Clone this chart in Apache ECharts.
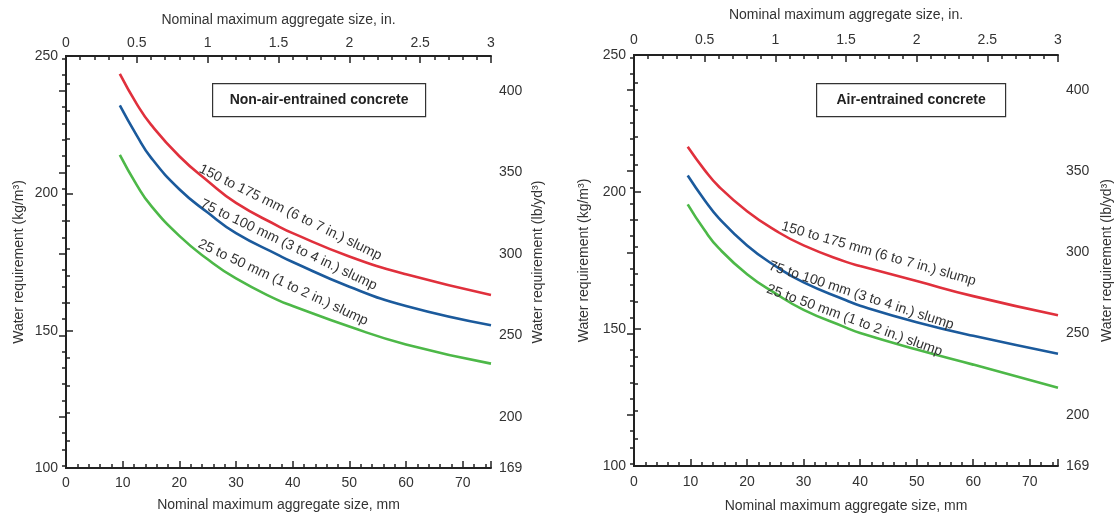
<!DOCTYPE html>
<html>
<head>
<meta charset="utf-8">
<script src="https://cdn.jsdelivr.net/npm/echarts@6/dist/echarts.min.js"></script>
<style>
html,body{margin:0;padding:0;background:#fff;}
#c{width:1117px;height:515px;}
</style>
</head>
<body>
<div id="c"></div>
<script>
// ---- data ----
var sizesMm = [9.5, 12.5, 15, 20, 25, 30, 37.5, 40, 50, 60, 75];
// Non-air-entrained concrete (kg/m3)
var nonAirHigh = [243.5, 232.5, 225, 213.5, 204.5, 196.5, 188, 185.5, 177, 170.5, 163];
var nonAirMid  = [232, 221, 213, 201.5, 193, 185.5, 177.5, 175, 166, 159, 152];
var nonAirLow  = [214, 203, 195.5, 184.5, 176, 169, 161, 159, 151.5, 145, 138];
// Air-entrained concrete (kg/m3)
var airHigh = [216.5, 208, 202, 193, 186, 180.5, 174.5, 173, 167.5, 162, 155];
var airMid  = [206, 197, 190.5, 180.5, 173, 167, 160.5, 158.5, 152.5, 147.5, 141];
var airLow  = [195.5, 186, 179.5, 170, 163, 157, 150.5, 148.5, 142.5, 137, 128.6];
var seriesNames = ['150 to 175 mm (6 to 7 in.) slump', '75 to 100 mm (3 to 4 in.) slump', '25 to 50 mm (1 to 2 in.) slump'];
var panelTitles = ['Non-air-entrained concrete', 'Air-entrained concrete'];
var kgTickLabels = [100, 150, 200, 250];
var lbTickLabels = [200, 250, 300, 350, 400];
var inTickLabels = [0, 0.5, 1, 1.5, 2, 2.5, 3];
var mmTickLabels = [0, 10, 20, 30, 40, 50, 60, 70];
// slump label anchors [mm, kg/m3] and rotation per panel
var labelAnchorsNonAir = [[39.6, 193], [39.3, 181.2], [38.3, 167.5]];
var labelAnchorsAir = [[43.3, 177.4], [40.2, 162.2], [39, 153.1]];
var labelRotNonAir = [-26, -25.5, -25];
var labelRotAir = [-16, -18, -20];

var KG_TO_LB = 1.6856;
var colors = ['#e0303c', '#1b5a9c', '#4db848'];
var font = 'Liberation Sans, Arial, Helvetica, sans-serif';
var axisColor = '#222';
var textColor = '#333';

var grids = [
  {left: 66, top: 56, width: 425, height: 412, outerBoundsMode: 'none', containLabel: false},
  {left: 634, top: 55, width: 424, height: 411, outerBoundsMode: 'none', containLabel: false}
];
var layout = [
  {topMargin: 6, topGap: 29, botMargin: 8, botGap: 30, leftGap: 40, rightGap: 40},
  {topMargin: 8, topGap: 33, botMargin: 9, botGap: 33, leftGap: 43, rightGap: 42}
];

function pairs(ys) { return sizesMm.map(function (x, i) { return [x, ys[i]]; }); }

var xAxes = [], yAxes = [], series = [];
var panels = [[nonAirHigh, nonAirMid, nonAirLow], [airHigh, airMid, airLow]];
var anchors = [labelAnchorsNonAir, labelAnchorsAir];
var rots = [labelRotNonAir, labelRotAir];
var lbMin = 100 * KG_TO_LB, lbMax = 250 * KG_TO_LB;
var lbMinor = [];
for (var v = 170; v <= 420; v += 10) lbMinor.push(v);

var tickStyle = {color: axisColor, width: 1.5};
function minorAxis(gi, pos, min, max, interval) {
  return {
    gridIndex: gi, type: 'value', position: pos, min: min, max: max, interval: interval,
    axisLine: {show: false}, axisLabel: {show: false}, splitLine: {show: false},
    axisTick: {show: true, inside: true, length: 4, lineStyle: tickStyle}
  };
}

grids.forEach(function (g, gi) {
  var L = layout[gi];
  var base = xAxes.length;
  xAxes.push({
    gridIndex: gi, type: 'value', position: 'bottom', min: 0, max: 75, interval: 10,
    name: 'Nominal maximum aggregate size, mm', nameLocation: 'middle', nameGap: L.botGap,
    nameTextStyle: {fontFamily: font, fontSize: 14, color: textColor},
    axisLine: {show: true, lineStyle: {color: axisColor, width: 2}},
    axisTick: {show: true, inside: true, length: 7, lineStyle: tickStyle},
    axisLabel: {show: true, margin: L.botMargin, fontFamily: font, fontSize: 14, color: textColor,
      formatter: function (val) { return mmTickLabels.indexOf(val) >= 0 ? String(val) : ''; }},
    splitLine: {show: false}
  });
  xAxes.push(minorAxis(gi, 'bottom', 0, 75, 2));
  xAxes.push({
    gridIndex: gi, type: 'value', position: 'top', min: 0, max: 3, interval: 0.5,
    name: 'Nominal maximum aggregate size, in.', nameLocation: 'middle', nameGap: L.topGap,
    nameTextStyle: {fontFamily: font, fontSize: 14, color: textColor},
    axisLine: {show: true, lineStyle: {color: axisColor, width: 2}},
    axisTick: {show: true, inside: true, length: 7, lineStyle: tickStyle},
    axisLabel: {show: true, margin: L.topMargin, fontFamily: font, fontSize: 14, color: textColor,
      formatter: function (val) { return inTickLabels.indexOf(val) >= 0 ? String(val) : ''; }},
    splitLine: {show: false}
  });
  xAxes.push(minorAxis(gi, 'top', 0, 3, 0.1));

  var ybase = yAxes.length;
  yAxes.push({
    gridIndex: gi, type: 'value', position: 'left', min: 100, max: 250, interval: 50,
    name: 'Water requirement (kg/m\u00b3)', nameLocation: 'middle', nameGap: L.leftGap, nameRotate: 90,
    nameTextStyle: {fontFamily: font, fontSize: 14, color: textColor},
    axisLine: {show: true, lineStyle: {color: axisColor, width: 2}},
    axisTick: {show: true, inside: true, length: 7, lineStyle: tickStyle},
    axisLabel: {show: true, margin: 8, fontFamily: font, fontSize: 14, color: textColor,
      formatter: function (val) { return kgTickLabels.indexOf(val) >= 0 ? String(val) : ''; }},
    splitLine: {show: false}
  });
  yAxes.push(minorAxis(gi, 'left', 100, 250, 10));
  yAxes.push({
    gridIndex: gi, type: 'value', position: 'right', min: lbMin, max: lbMax,
    name: 'Water requirement (lb/yd\u00b3)', nameLocation: 'middle', nameGap: L.rightGap, nameRotate: 90,
    nameTextStyle: {fontFamily: font, fontSize: 14, color: textColor},
    axisLine: {show: true, lineStyle: {color: axisColor, width: 2}},
    axisTick: {show: true, inside: true, length: 7, customValues: lbTickLabels, lineStyle: tickStyle},
    axisLabel: {show: true, margin: 8, fontFamily: font, fontSize: 14, color: textColor,
      customValues: [lbMin].concat(lbTickLabels),
      formatter: function (val) { return String(Math.round(val)); }},
    splitLine: {show: false}
  });
  yAxes.push({
    gridIndex: gi, type: 'value', position: 'right', min: lbMin, max: lbMax,
    axisLine: {show: false}, axisLabel: {show: false}, splitLine: {show: false},
    axisTick: {show: true, inside: true, length: 4, customValues: lbMinor, lineStyle: tickStyle}
  });

  panels[gi].forEach(function (ys, si) {
    series.push({
      type: 'line', name: seriesNames[si], xAxisIndex: base, yAxisIndex: ybase,
      data: pairs(ys), smooth: 0.5, showSymbol: false, symbol: 'none',
      lineStyle: {color: colors[si], width: 2.6}, z: 3,
      markPoint: {
        symbol: 'circle', symbolSize: 0, silent: true,
        data: [{coord: anchors[gi][si], label: {show: true, formatter: seriesNames[si], rotate: rots[gi][si],
          position: 'inside', fontFamily: font, fontSize: 14, color: textColor}}]
      }
    });
  });
});

var chart = echarts.init(document.getElementById('c'), null, {renderer: 'canvas'});
chart.setOption({
  animation: false,
  backgroundColor: '#fff',
  grid: grids,
  xAxis: xAxes,
  yAxis: yAxes,
  series: series,
  graphic: [
    {type: 'group', left: 212, top: 83, children: [
      {type: 'rect', shape: {x: 0, y: 0, width: 213, height: 33}, style: {fill: '#fff', stroke: '#333', lineWidth: 1.2}},
      {type: 'text', x: 106.5, y: 16.5, style: {text: panelTitles[0], align: 'center', verticalAlign: 'middle', font: 'bold 14px ' + font, fill: '#222'}}
    ]},
    {type: 'group', left: 816, top: 83, children: [
      {type: 'rect', shape: {x: 0, y: 0, width: 189, height: 33}, style: {fill: '#fff', stroke: '#333', lineWidth: 1.2}},
      {type: 'text', x: 94.5, y: 16.5, style: {text: panelTitles[1], align: 'center', verticalAlign: 'middle', font: 'bold 14px ' + font, fill: '#222'}}
    ]}
  ]
});
</script>
</body>
</html>
